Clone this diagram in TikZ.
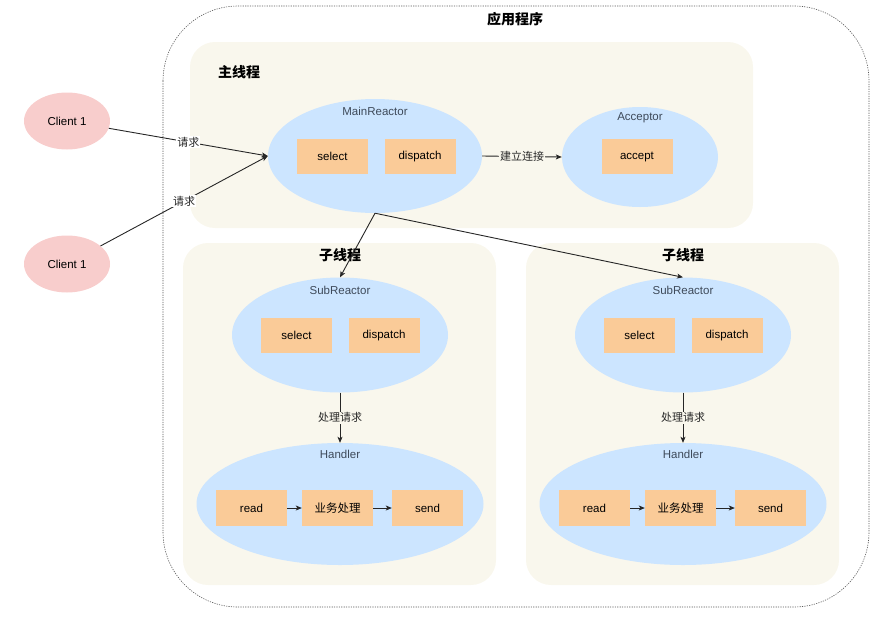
\documentclass[tikz,border=0pt]{standalone}
\usepackage{fontspec}
\setmainfont{Liberation Sans}
\newfontfamily\cjk{Noto Sans CJK SC}
\usepackage{tikz}
\usetikzlibrary{arrows.meta}
\tikzset{>={Stealth[length=6pt, width=5pt, inset=1.5pt]}}
\usetikzlibrary{shapes.geometric}
\definecolor{panelbg}{HTML}{F9F7ED}
\definecolor{reactorbg}{HTML}{CCE5FF}
\definecolor{taskbg}{HTML}{FACB98}
\definecolor{clientbg}{HTML}{F8CDCC}
\definecolor{caption}{HTML}{3E4A5A}
\tikzset{
  oval/.style={ellipse, fill=reactorbg, inner sep=0pt},
  task/.style={fill=taskbg, minimum width=71pt, minimum height=35pt, inner sep=0pt, font=\fontsize{11.5}{13}\selectfont},
  client/.style={ellipse, fill=clientbg, minimum width=86pt, minimum height=57pt, inner sep=0pt, font=\fontsize{11.5}{13}\selectfont},
  ovallabel/.style={text=caption, font=\fontsize{11.5}{13}\selectfont},
  heading/.style={font=\cjk\bfseries\fontsize{14}{16}\selectfont},
  flow/.style={->, black!85, line width=0.9pt},
  flowlabel/.style={font=\cjk\fontsize{11}{13}\selectfont, inner sep=1pt}
}

\begin{document}
\begin{tikzpicture}[x=1pt, y=-1pt]
  \useasboundingbox (0,0) rectangle (884,622);
  % application frame
  \draw[black!65, line width=0.6pt, dash pattern=on 1.2pt off 1.2pt, rounded corners=75pt] (163,6) rectangle (869,607);
  \node[heading] (app) at (515,19) {应用程序};
  % main thread
  \fill[panelbg, rounded corners=25pt] (190,42) rectangle (753,228);
  \node[heading] (mainthread) at (239,72) {主线程};
  \node[oval, minimum width=214pt, minimum height=114pt] (mainreactor) at (375,156) {};
  \node[ovallabel] (mainreactorlabel) at (375,111) {MainReactor};
  \node[task] (mainselect) at (332.5,156.5) {select};
  \node[task] (maindispatch) at (420,156.5) {dispatch};
  \node[oval, minimum width=156pt, minimum height=100pt] (acceptor) at (640,157) {};
  \node[ovallabel] (acceptorlabel) at (640,118) {Acceptor};
  \node[task] (accept) at (637,156.5) {accept};
  \draw[flow] (mainreactor.east) -- (acceptor.west) node[midway, flowlabel, fill=panelbg] {建立连接};
  % clients
  \node[client] (clienta) at (67,121) {Client 1};
  \node[client] (clientb) at (67,264) {Client 1};
  \draw[flow] (clienta) -- (mainreactor.west) node[midway, flowlabel, fill=white] {请求};
  \draw[flow] (clientb) -- (mainreactor.west) node[midway, flowlabel, fill=white] {请求};
  % sub threads
  \foreach \dx/\s in {0/L, 343/R} {
    \fill[panelbg, rounded corners=25pt] (183+\dx,243) rectangle (496+\dx,585);
    \node[heading] (subthread\s) at (340+\dx,255) {子线程};
    \node[oval, minimum width=216pt, minimum height=115pt] (sub\s) at (340+\dx,335) {};
    \node[ovallabel] (sublabel\s) at (340+\dx,290) {SubReactor};
    \node[task] (subselect\s) at (296.5+\dx,335.5) {select};
    \node[task] (subdispatch\s) at (384+\dx,335.5) {dispatch};
    \node[oval, minimum width=287pt, minimum height=122pt] (handler\s) at (340+\dx,504) {};
    \node[ovallabel] (handlerlabel\s) at (340+\dx,454) {Handler};
    \node[task, minimum height=36pt] (read\s) at (251.5+\dx,508) {read};
    \node[task, minimum height=36pt, font=\cjk\fontsize{11.5}{13}\selectfont] (biz\s) at (337.5+\dx,508) {业务处理};
    \node[task, minimum height=36pt] (send\s) at (427.5+\dx,508) {send};
    \draw[flow] (sub\s.south) -- (handler\s.north) node[midway, flowlabel, fill=panelbg] {处理请求};
    \draw[flow] (read\s) -- (biz\s);
    \draw[flow] (biz\s) -- (send\s);
    \draw[flow] (mainreactor.south) -- (sub\s.north);
  }
\end{tikzpicture}
\end{document}
